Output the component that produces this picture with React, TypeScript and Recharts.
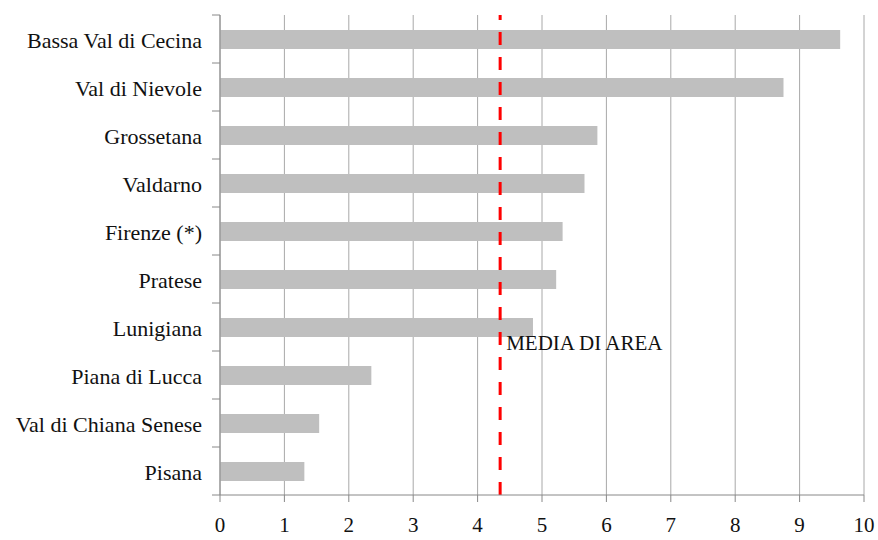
import { BarChart, Bar, XAxis, YAxis, CartesianGrid, ReferenceLine } from "recharts";

document.body.style.margin = "0";

const areas = [
  "Bassa Val di Cecina",
  "Val di Nievole",
  "Grossetana",
  "Valdarno",
  "Firenze (*)",
  "Pratese",
  "Lunigiana",
  "Piana di Lucca",
  "Val di Chiana Senese",
  "Pisana",
];
const values = [9.63, 8.75, 5.86, 5.66, 5.32, 5.22, 4.86, 2.35, 1.54, 1.31];
const xTicks = [0, 1, 2, 3, 4, 5, 6, 7, 8, 9, 10];
const mediaArea = 4.35;
const mediaLabel = "MEDIA DI AREA";

const data = areas.map((name, i) => ({ name, value: values[i] }));

const FONT = "'Liberation Serif', serif";
const BAND = 480 / areas.length;

function AreaTick(props: any) {
  const { x, y, payload, index } = props;
  const lx = x + 10;
  return (
    <g>
      <line x1={lx} x2={lx + 8} y1={y - BAND / 2} y2={y - BAND / 2} stroke="#888" />
      {index === areas.length - 1 && (
        <line x1={lx} x2={lx + 8} y1={y + BAND / 2} y2={y + BAND / 2} stroke="#888" />
      )}
      <text x={x} y={y} dy={9} textAnchor="end" fill="#111" fontSize={22} fontFamily={FONT}>
        {payload.value}
      </text>
    </g>
  );
}

export default function App() {
  return (
    <BarChart
      width={878}
      height={540}
      data={data}
      layout="vertical"
      margin={{ top: 15, right: 14, left: 0, bottom: 0 }}
    >
      <CartesianGrid horizontal={false} stroke="#a8a8a8" />
      <XAxis
        type="number"
        domain={[0, 10]}
        ticks={xTicks}
        height={45}
        tickSize={7}
        tickMargin={15}
        stroke="#888"
        tick={{ fill: "#111", fontSize: 21, fontFamily: FONT }}
      />
      <YAxis
        type="category"
        dataKey="name"
        width={220}
        tickSize={8}
        tickMargin={10}
        tickLine={false}
        stroke="#888"
        tick={<AreaTick />}
        interval={0}
      />
      <Bar dataKey="value" fill="#bfbfbf" barSize={19} isAnimationActive={false} />
      <ReferenceLine
        x={mediaArea}
        stroke="#ff0000"
        strokeWidth={3}
        strokeDasharray="13 12"
        label={(p: any) => (
          <text
            x={p.viewBox.x + 6}
            y={p.viewBox.y + 335}
            fill="#111"
            fontSize={21}
            fontFamily={FONT}
          >
            {mediaLabel}
          </text>
        )}
      />
    </BarChart>
  );
}
